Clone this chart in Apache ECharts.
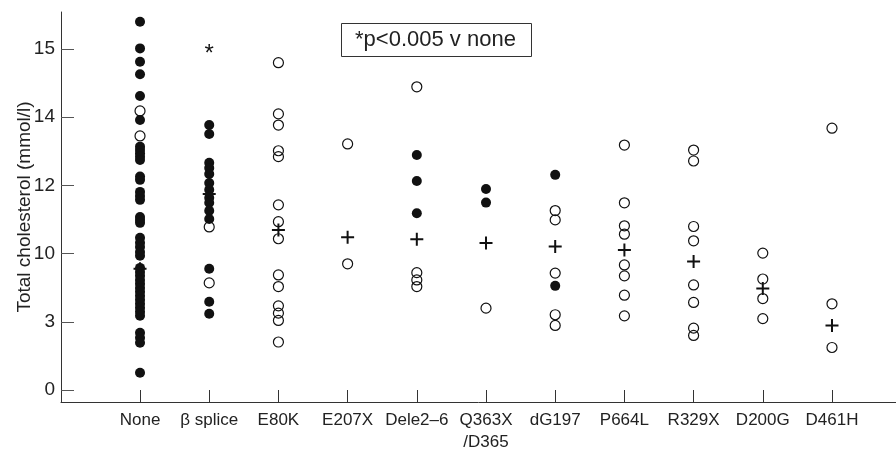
<!DOCTYPE html>
<html>
<head>
<meta charset="utf-8">
<script src="https://cdn.jsdelivr.net/npm/echarts@6/dist/echarts.min.js"></script>
<style>
html, body { margin: 0; padding: 0; background: #fff; }
#chart { width: 896px; height: 449px; }
</style>
</head>
<body>
<div id="chart"></div>
<script>
// groups along the x axis
var categories = ['None', 'β splice', 'E80K', 'E207X', 'Dele2–6', 'Q363X\n/D365',
    'dG197', 'P664L', 'R329X', 'D200G', 'D461H'];

// filled circles, one list per group (mmol/l)
var filledValues = [
    [16.19, 15.02, 14.43, 13.88, 12.93, 11.87, 10.70, 10.55, 10.41, 10.26, 10.11,
     9.39, 9.24, 8.71, 8.53, 8.36, 7.61, 7.48, 7.35, 6.69, 6.47, 6.29, 6.07, 5.90,
     5.37, 5.19, 5.02, 4.84, 4.67, 4.49, 4.32, 4.14, 3.97, 3.79, 3.62, 3.44, 3.27,
     2.52, 2.30, 2.08, 0.76],
    [11.65, 11.26, 9.99, 9.76, 9.50, 9.10, 8.80, 8.45, 8.23, 7.88, 7.52, 5.33, 3.88, 3.35],
    [],
    [],
    [10.33, 9.19, 7.77],
    [8.84, 8.24],
    [9.46, 4.58],
    [],
    [],
    [],
    []
];

// open circles, one list per group
var openValues = [
    [12.27, 11.17],
    [7.17, 4.71],
    [14.39, 12.14, 11.65, 10.52, 10.26, 8.14, 7.40, 6.65, 5.06, 4.55, 3.70, 3.38, 3.06, 2.11],
    [10.82, 5.55],
    [13.33, 5.16, 4.84, 4.55],
    [3.60],
    [7.89, 7.48, 5.14, 3.31, 2.84],
    [10.77, 8.23, 7.22, 6.85, 5.50, 5.02, 4.17, 3.26],
    [10.55, 10.07, 7.19, 6.56, 4.62, 3.85, 2.72, 2.40],
    [6.02, 4.88, 4.02, 3.14],
    [11.51, 3.79, 1.87]
];

// group means (the + marks)
var meanValues = [5.33, 8.62, 7.04, 6.72, 6.63, 6.46, 6.31, 6.16, 5.65, 4.46, 2.84];

// significance star above beta splice
var starGroup = 1;
var starValue = 15.0;

var yTickValues = [0, 3, 6, 9, 12, 15];
var yTickLabels = ['0', '3', '10', '12', '14', '15'];

var font = 'Liberation Sans';

function toPoints(lists) {
    var pts = [];
    for (var i = 0; i < lists.length; i++) {
        for (var j = 0; j < lists[i].length; j++) {
            pts.push([i, lists[i][j]]);
        }
    }
    return pts;
}

var xIdx = [];
for (var i = 0; i < categories.length; i++) xIdx.push(i);

var myChart = echarts.init(document.getElementById('chart'));

var option = {
    backgroundColor: '#fff',
    animation: false,
    title: {
        text: '*p<0.005 v none',
        left: 341,
        top: 23,
        padding: [6, 16, 6, 14],
        borderColor: '#333',
        borderWidth: 1,
        textStyle: {
            fontFamily: font,
            fontSize: 22,
            fontWeight: 'normal',
            color: '#222'
        }
    },
    grid: {
        left: 61,
        right: 0,
        top: 12,
        bottom: 47,
        outerBoundsMode: 'none'
    },
    xAxis: {
        type: 'value',
        min: -1.142,
        max: 10.925,
        splitLine: { show: false },
        axisLine: { onZero: false, lineStyle: { color: '#333', width: 1 } },
        axisTick: {
            inside: true,
            length: 12,
            customValues: xIdx,
            lineStyle: { color: '#333' }
        },
        axisLabel: {
            customValues: xIdx,
            margin: 7,
            fontFamily: font,
            fontSize: 17,
            lineHeight: 22,
            color: '#222',
            formatter: function (v) { return categories[Math.round(v)]; }
        }
    },
    yAxis: {
        type: 'value',
        min: -0.527,
        max: 16.62,
        name: 'Total cholesterol (mmol/l)',
        nameLocation: 'middle',
        nameGap: 27,
        nameMoveOverlap: false,
        nameTextStyle: { fontFamily: font, fontSize: 19, color: '#222' },
        splitLine: { show: false },
        axisLine: { show: true, onZero: false, lineStyle: { color: '#333', width: 1 } },
        axisTick: {
            show: true,
            inside: true,
            length: 13,
            customValues: yTickValues,
            lineStyle: { color: '#555' }
        },
        axisLabel: {
            customValues: yTickValues,
            margin: 6,
            fontFamily: font,
            fontSize: 19,
            color: '#222',
            formatter: function (v) { return yTickLabels[yTickValues.indexOf(v)]; }
        }
    },
    series: [
        {
            name: 'filled',
            type: 'scatter',
            symbol: 'circle',
            symbolSize: 10,
            itemStyle: { color: '#111', opacity: 1 },
            data: toPoints(filledValues)
        },
        {
            name: 'open',
            type: 'scatter',
            symbol: 'circle',
            symbolSize: 10,
            itemStyle: { color: 'rgba(255,255,255,0)', borderColor: '#111', borderWidth: 1.2, opacity: 1 },
            data: toPoints(openValues)
        },
        {
            name: 'mean',
            type: 'scatter',
            symbol: 'path://M0,5.5H13V7.5H0Z M5.5,0H7.5V13H5.5Z',
            symbolSize: [13, 13],
            itemStyle: { color: '#111', opacity: 1 },
            data: meanValues.map(function (v, i) { return [i, v]; }),
            z: 5
        },
        {
            name: 'star',
            type: 'scatter',
            symbolSize: 0,
            itemStyle: { opacity: 1 },
            label: {
                show: true,
                position: 'inside',
                formatter: '*',
                fontFamily: font,
                fontSize: 24,
                color: '#111',
                offset: [0, 6]
            },
            data: [[starGroup, starValue]]
        }
    ]
};

myChart.setOption(option);
</script>
</body>
</html>
